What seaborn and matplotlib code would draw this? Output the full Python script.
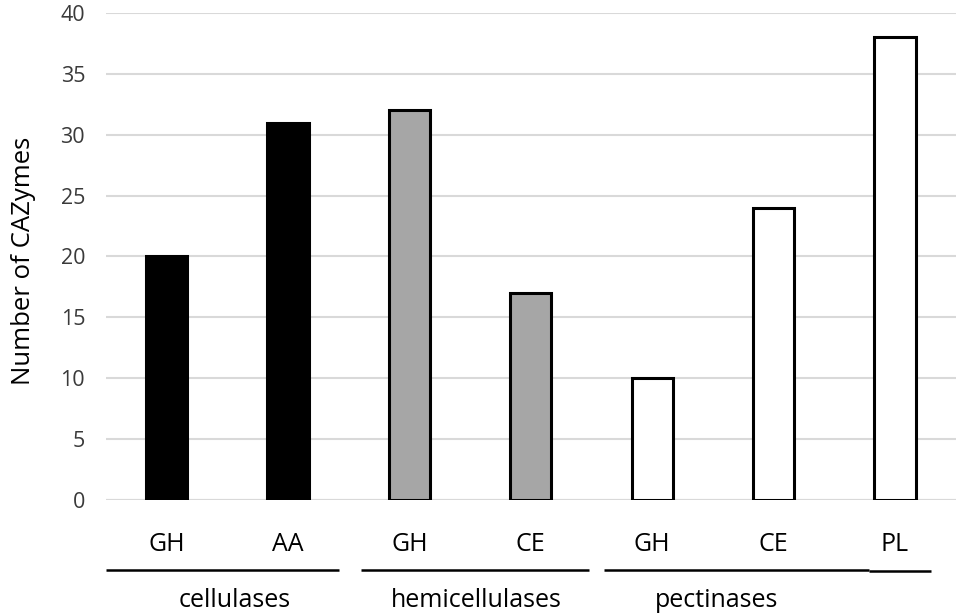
import matplotlib
matplotlib.use("Agg")
import matplotlib.pyplot as plt
import seaborn as sns
import pandas as pd

categories = ["GH", "AA", "GH", "CE", "GH", "CE", "PL"]
groups = ["cellulases", "cellulases", "hemicellulases", "hemicellulases",
          "pectinases", "pectinases", "pectinases"]
values = [20, 31, 32, 17, 10, 24, 38]
group_names = ["cellulases", "hemicellulases", "pectinases"]
group_colors = ["#000000", "#a6a6a6", "#ffffff"]

df = pd.DataFrame({"pos": [str(i) for i in range(len(values))],
                   "cat": categories, "group": groups, "value": values})

sns.set_theme(style="white")
plt.rcParams['font.family'] = ['Open Sans', 'DejaVu Sans']

fig = plt.figure(figsize=(9.59, 6.14), dpi=100)
ax = fig.add_axes([0.1105, 0.1857, 0.886, 0.7931])

sns.barplot(data=df, x="pos", y="value", hue="group", hue_order=group_names,
            palette=dict(zip(group_names, group_colors)), dodge=False,
            width=0.34, edgecolor="black", linewidth=2.2, legend=False, ax=ax, zorder=3)

ax.set_ylim(0, 40)
ax.set_xlim(-0.5, 6.5)
ax.set_yticks(range(0, 41, 5))
ax.yaxis.grid(True, color="#d9d9d9", linewidth=1.5, zorder=0)
ax.set_axisbelow(True)
for s in ax.spines.values():
    s.set_visible(False)
ax.axhline(0, color="#d9d9d9", linewidth=1.5, zorder=1)
ax.set_xticks(range(len(categories)))
ax.set_xticklabels(categories, fontsize=18, color="black")
ax.tick_params(axis="x", length=0, pad=23)
ax.tick_params(axis="y", length=0, pad=15, labelsize=15.5, labelcolor="#3a3a3a")
ax.set_xlabel("")
ax.set_ylabel("Number of CAZymes", fontsize=18.5, color="black")
ax.yaxis.set_label_coords(-0.082, 0.49)

tr = ax.get_xaxis_transform()
segments = [(-0.5, 1.42, -0.144), (1.60, 3.48, -0.144),
            (3.60, 5.79, -0.1435), (5.79, 6.30, -0.1455)]
for x0, x1, yy in segments:
    ax.plot([x0, x1], [yy, yy], transform=tr, color="black",
            linewidth=1.8, clip_on=False, solid_capstyle="butt")
label_x = [0.56, 2.55, 4.53]
for xc, name in zip(label_x, group_names):
    ax.text(xc, -0.207, name, transform=tr, ha="center", va="center",
            fontsize=18, color="black")

fig.savefig("out.png", dpi=100)
